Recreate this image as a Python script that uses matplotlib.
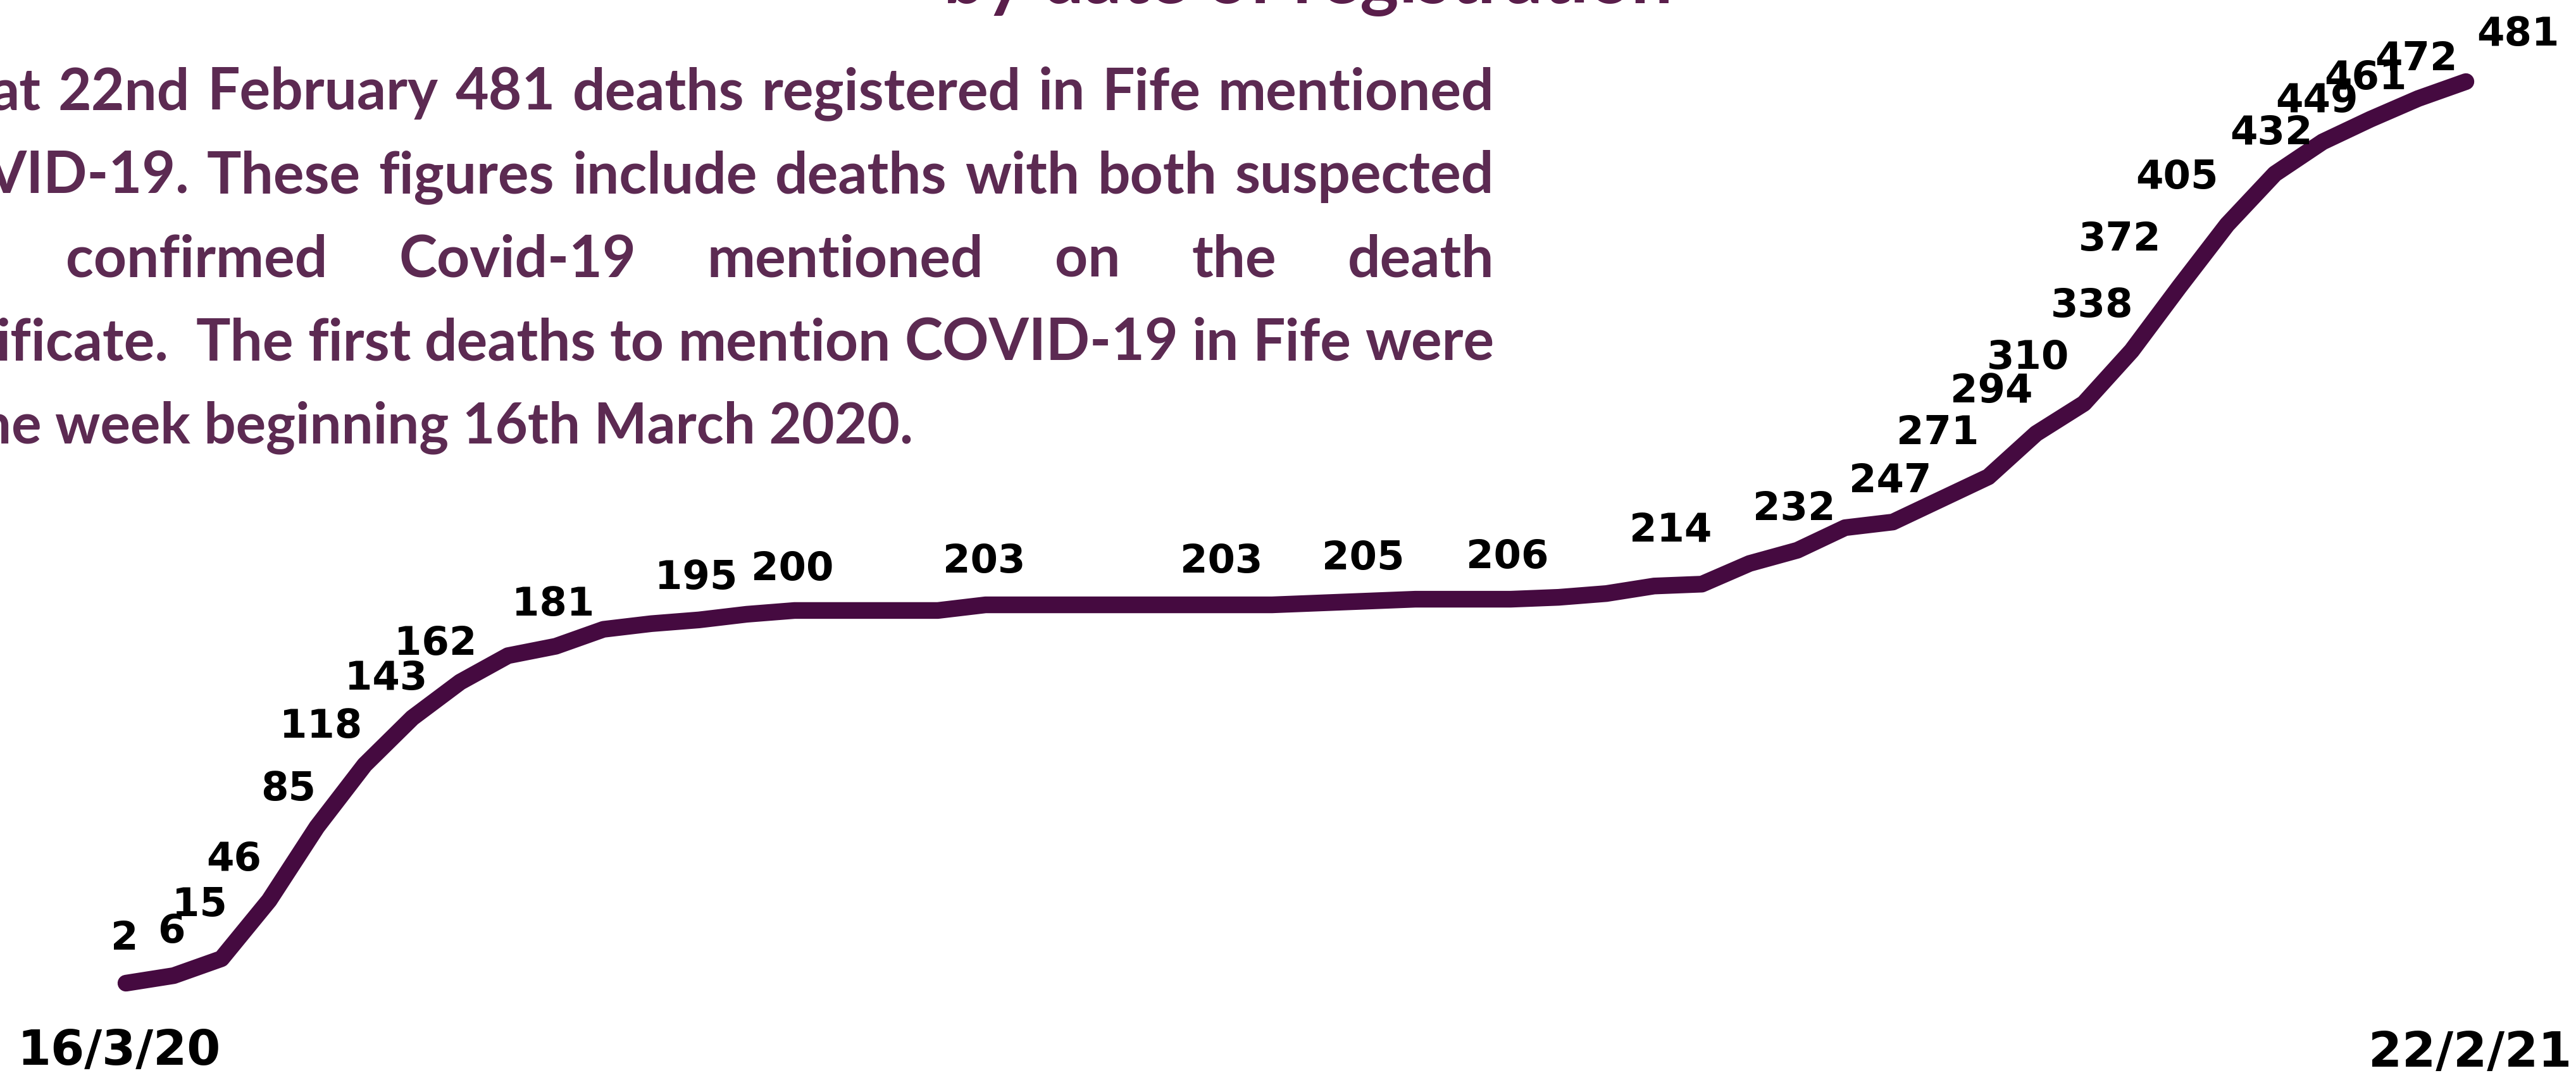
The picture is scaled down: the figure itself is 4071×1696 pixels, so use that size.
import numpy as np
import matplotlib
matplotlib.use('Agg')
import matplotlib.pyplot as plt

# cumulative deaths mentioning COVID-19 in Fife, weekly from 16/3/20 to 22/2/21
deaths = [2, 6, 15, 46, 85, 118, 143, 162, 176, 181,
          190, 193, 195, 198, 200, 200, 200, 200, 203, 203,
          203, 203, 203, 203, 203, 204, 205, 206, 206, 206,
          207, 209, 213, 214, 225, 232, 244, 247, 259, 271,
          294, 310, 338, 372, 405, 432, 449, 461, 472, 481]
first_week = '16/3/20'
last_week = '22/2/21'

# weeks that carry a value label
labelled = [0, 1, 2, 3, 4, 5, 6, 7, 9, 12, 14, 18, 23, 26, 29, 33,
            35, 37, 39, 40, 41, 42, 43, 44, 45, 46, 47, 48, 49]

title = 'by date of registration'
para_lines = [
    'at 22nd February 481 deaths registered in Fife mentioned',
    'VID-19. These figures include deaths with both suspected',
    'confirmed Covid-19 mentioned on the death',
    'ificate.  The first deaths to mention COVID-19 in Fife were',
    'he week beginning 16th March 2020.',
]

# label offsets (pixels) from each point to the label centre
label_off = [(-2, 76), (-4, 75), (-35, 90), (-56, 70), (-45, 65), (-69, 66),
             (-42, 68), (-39, 66), (-4, 71), (-4, 72), (-3, 71), (-2, 74),
             (-5, 74), (-7, 73), (-5, 72), (-49, 91), (-5, 71), (-4, 71),
             (-80, 75), (-71, 72), (-88, 78), (-63, 76), (-94, 80), (-79, 80),
             (-6, 70), (-9, 70), (-8, 70), (-3, 68), (82, 80)]

W, H = 4071, 1696
line_col = '#450a40'
text_col = '#5c2a52'

fig = plt.figure(figsize=(W / 100, H / 100), dpi=100)
ax = fig.add_axes([0, 0, 1, 1])
ax.axis('off')

# map weeks / deaths so the line sits where it does in the picture
x0, dx = 199, 75.47
y0, dy = 1554, 2.975
ax.set_xlim(-x0 / dx, (W - x0) / dx)
ax.set_ylim(2 - (H - y0) / dy, 2 + y0 / dy)

weeks = np.arange(len(deaths))
ax.plot(weeks, deaths, color=line_col, lw=19, solid_capstyle='round',
        solid_joinstyle='round')

for w, (ox, oy) in zip(labelled, label_off):
    ax.annotate(str(deaths[w]), (weeks[w], deaths[w]),
                xytext=(ox, oy - 23), textcoords='offset pixels',
                ha='center', va='baseline', fontsize=45,
                fontweight='bold', family='DejaVu Sans', color='black')


def fx(px):
    return px / W


def fy(py):
    return 1 - py / H


fig.text(fx(27), fy(1683), first_week, ha='left', va='baseline',
         fontsize=55, fontweight='bold', family='DejaVu Sans')
fig.text(fx(4064), fy(1686), last_week, ha='right', va='baseline',
         fontsize=55, fontweight='bold', family='DejaVu Sans')

fig.text(fx(2067), fy(5), title, ha='center', va='baseline',
         fontsize=84, fontweight='bold', family='Lato', color='#5a1e4b')

renderer = fig.canvas.get_renderer()
pfont = dict(fontweight='bold', family='Lato', color=text_col)
right_edge = 2361
baselines = [173, 305, 437, 569, 700]
starts = [-15, -22, 104, -6, None]

for line, base, left in zip(para_lines, baselines, starts):
    if left is None:
        # last line of the paragraph is not justified
        fig.text(fx(1443), fy(base), line, ha='right', va='baseline',
                 fontsize=64, **pfont)
        continue
    words = line.split(' ')
    arts = [fig.text(0, fy(base), wd, ha='left', va='baseline',
                     fontsize=65.5, **pfont) for wd in words]
    widths = [a.get_window_extent(renderer).width if wd else 0
              for a, wd in zip(arts, words)]
    gap = (right_edge - left - sum(widths)) / (len(words) - 1)
    x = left
    for a, wdt in zip(arts, widths):
        a.set_x(fx(x))
        x += wdt + gap

fig.savefig('out.png', dpi=100, facecolor='white')
